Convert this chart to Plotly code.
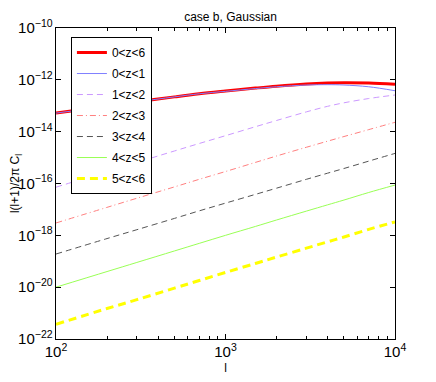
import plotly.graph_objects as go

# multipole l
ell = [100, 200, 300, 500, 700, 1000, 1500, 2000, 3000, 4000, 5000, 7000, 10000]

# l(l+1)/2pi C_l per redshift bin
cl_0_6 = [5.2e-14, 9.5e-14, 1.4e-13, 2.2e-13, 2.9e-13, 3.7e-13, 4.8e-13, 5.7e-13, 6.9e-13, 7.5e-13, 7.7e-13, 7.5e-13, 6.7e-13]
cl_0_1 = [5.2e-14, 9.5e-14, 1.4e-13, 2.2e-13, 2.9e-13, 3.6e-13, 4.6e-13, 5.4e-13, 6.3e-13, 6.5e-13, 6.3e-13, 5.4e-13, 3.8e-13]
cl_1_2 = [7.2e-17, 2.9e-16, 6.5e-16, 1.8e-15, 3.5e-15, 7.0e-15, 1.55e-14, 2.7e-14, 5.8e-14, 9.5e-14, 1.3e-13, 1.9e-13, 2.6e-13]
cl_2_3 = [3.0e-18, 1.2e-17, 2.7e-17, 7.4e-17, 1.45e-16, 2.9e-16, 6.5e-16, 1.15e-15, 2.5e-15, 4.3e-15, 6.5e-15, 1.2e-14, 2.3e-14]
cl_3_4 = [1.9e-19, 7.5e-19, 1.65e-18, 4.5e-18, 8.8e-18, 1.75e-17, 3.8e-17, 6.6e-17, 1.45e-16, 2.5e-16, 3.8e-16, 7.3e-16, 1.45e-15]
cl_4_5 = [1.0e-20, 4.0e-20, 9.0e-20, 2.5e-19, 4.9e-19, 1.0e-18, 2.2e-18, 3.9e-18, 8.6e-18, 1.5e-17, 2.3e-17, 4.5e-17, 8.7e-17]
cl_5_6 = [3.7e-22, 1.5e-21, 3.3e-21, 9.2e-21, 1.8e-20, 3.7e-20, 8.2e-20, 1.45e-19, 3.2e-19, 5.6e-19, 8.6e-19, 1.7e-18, 3.3e-18]

labels = ['0<z<6', '0<z<1', '1<z<2', '2<z<3', '3<z<4', '4<z<5', '5<z<6']

styles = [
    dict(color='#ff0000', width=3, dash='solid'),
    dict(color='#7f7fff', width=1, dash='solid'),
    dict(color='#cc99ff', width=1, dash='6px,4px'),
    dict(color='#ff7f7f', width=1, dash='6px,3px,1px,3px'),
    dict(color='#555555', width=1, dash='6px,4px'),
    dict(color='#99ff55', width=1, dash='solid'),
    dict(color='#ffff00', width=3, dash='8px,5px'),
]

series = [cl_0_6, cl_0_1, cl_1_2, cl_2_3, cl_3_4, cl_4_5, cl_5_6]

fig = go.Figure()
for i, (name, ys, st) in enumerate(zip(labels, series, styles)):
    fig.add_trace(go.Scatter(x=ell, y=ys, mode='lines', name=name, line=st,
                             line_shape='spline', legendgroup=str(i)))

axis_common = dict(
    type='log', showgrid=False, zeroline=False, automargin=False,
    showline=True, linecolor='black', linewidth=1, mirror='ticks',
    ticks='inside', ticklen=5, tickcolor='black',
    exponentformat='power', tickfont=dict(size=12, color='black'),
)

fig.update_xaxes(range=[2, 4], dtick=1,
                 minor=dict(ticks='inside', ticklen=3, dtick='D1', tickcolor='black'),
                 title=dict(text='l', font=dict(size=12, color='black'), standoff=4),
                 **axis_common)
fig.update_yaxes(range=[-22, -10], dtick=2,
                 title=dict(text='l(l+1)/2π C<sub>l</sub>', font=dict(size=12, color='black'), standoff=6),
                 **axis_common)

# the page body keeps an 8px margin, so the figure is 8px smaller and sits shifted
fig.update_layout(
    width=428, height=374,
    margin=dict(l=48, r=41, t=20, b=43),
    paper_bgcolor='white', plot_bgcolor='white',
    font=dict(family='Liberation Sans, Arial, sans-serif', size=12, color='black'),
    title=dict(text='case b, Gaussian', x=0.52, xanchor='center',
               yref='paper', y=1, yanchor='bottom', pad=dict(b=7),
               font=dict(size=12, color='black')),
    legend=dict(x=0.044, y=0.971, xanchor='left', yanchor='top',
                bordercolor='black', borderwidth=1, bgcolor='white',
                font=dict(size=12), itemwidth=30, tracegroupgap=2),
    showlegend=True,
)

fig.write_html('out.html', config={'displayModeBar': False})
